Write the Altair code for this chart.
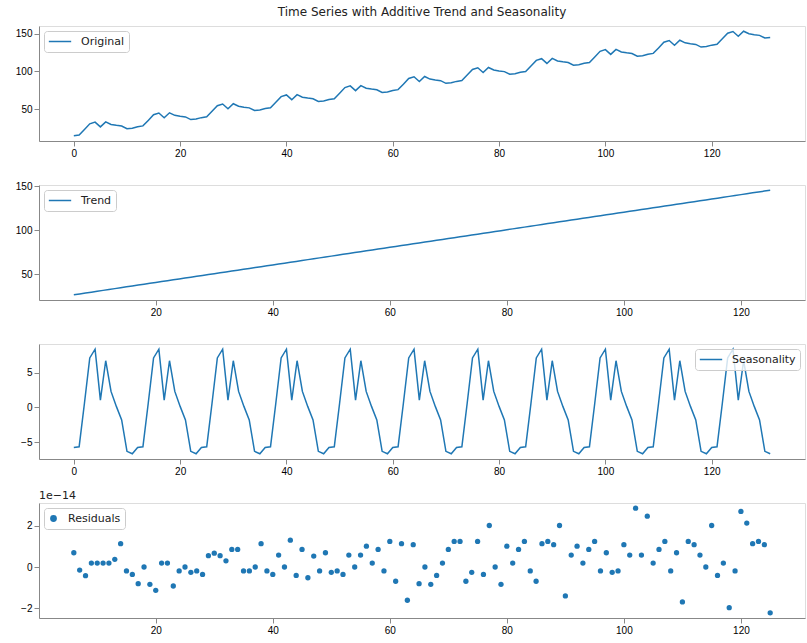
import altair as alt
import pandas as pd

# ---- data -------------------------------------------------------------
time_index = list(range(132))

original = [
    14.85, 15.95, 23.2, 30.7, 32.95, 26.65, 33.3, 29.9, 28.75, 27.8, 24.3, 24.95,
    26.85, 27.95, 35.2, 42.7, 44.95, 38.65, 45.3, 41.9, 40.75, 39.8, 36.3, 36.95,
    38.85, 39.95, 47.2, 54.7, 56.95, 50.65, 57.3, 53.9, 52.75, 51.8, 48.3, 48.95,
    50.85, 51.95, 59.2, 66.7, 68.95, 62.65, 69.3, 65.9, 64.75, 63.8, 60.3, 60.95,
    62.85, 63.95, 71.2, 78.7, 80.95, 74.65, 81.3, 77.9, 76.75, 75.8, 72.3, 72.95,
    74.85, 75.95, 83.2, 90.7, 92.95, 86.65, 93.3, 89.9, 88.75, 87.8, 84.3, 84.95,
    86.85, 87.95, 95.2, 102.7, 104.95, 98.65, 105.3, 101.9, 100.75, 99.8, 96.3, 96.95,
    98.85, 99.95, 107.2, 114.7, 116.95, 110.65, 117.3, 113.9, 112.75, 111.8, 108.3, 108.95,
    110.85, 111.95, 119.2, 126.7, 128.95, 122.65, 129.3, 125.9, 124.75, 123.8, 120.3, 120.95,
    122.85, 123.95, 131.2, 138.7, 140.95, 134.65, 141.3, 137.9, 136.75, 135.8, 132.3, 132.95,
    134.85, 135.95, 143.2, 150.7, 152.95, 146.65, 153.3, 149.9, 148.75, 147.8, 144.3, 144.95,
]

# centred moving average is undefined for the first and last six steps
trend_index = list(range(6, 126))
trend = [
    26.6, 27.6, 28.6, 29.6, 30.6, 31.6, 32.6, 33.6, 34.6, 35.6, 36.6, 37.6,
    38.6, 39.6, 40.6, 41.6, 42.6, 43.6, 44.6, 45.6, 46.6, 47.6, 48.6, 49.6,
    50.6, 51.6, 52.6, 53.6, 54.6, 55.6, 56.6, 57.6, 58.6, 59.6, 60.6, 61.6,
    62.6, 63.6, 64.6, 65.6, 66.6, 67.6, 68.6, 69.6, 70.6, 71.6, 72.6, 73.6,
    74.6, 75.6, 76.6, 77.6, 78.6, 79.6, 80.6, 81.6, 82.6, 83.6, 84.6, 85.6,
    86.6, 87.6, 88.6, 89.6, 90.6, 91.6, 92.6, 93.6, 94.6, 95.6, 96.6, 97.6,
    98.6, 99.6, 100.6, 101.6, 102.6, 103.6, 104.6, 105.6, 106.6, 107.6, 108.6, 109.6,
    110.6, 111.6, 112.6, 113.6, 114.6, 115.6, 116.6, 117.6, 118.6, 119.6, 120.6, 121.6,
    122.6, 123.6, 124.6, 125.6, 126.6, 127.6, 128.6, 129.6, 130.6, 131.6, 132.6, 133.6,
    134.6, 135.6, 136.6, 137.6, 138.6, 139.6, 140.6, 141.6, 142.6, 143.6, 144.6, 145.6,
]

seasonality = [
    -5.75, -5.65, 0.6, 7.1, 8.35, 1.05, 6.7, 2.3, 0.15, -1.8, -6.3, -6.65,
    -5.75, -5.65, 0.6, 7.1, 8.35, 1.05, 6.7, 2.3, 0.15, -1.8, -6.3, -6.65,
    -5.75, -5.65, 0.6, 7.1, 8.35, 1.05, 6.7, 2.3, 0.15, -1.8, -6.3, -6.65,
    -5.75, -5.65, 0.6, 7.1, 8.35, 1.05, 6.7, 2.3, 0.15, -1.8, -6.3, -6.65,
    -5.75, -5.65, 0.6, 7.1, 8.35, 1.05, 6.7, 2.3, 0.15, -1.8, -6.3, -6.65,
    -5.75, -5.65, 0.6, 7.1, 8.35, 1.05, 6.7, 2.3, 0.15, -1.8, -6.3, -6.65,
    -5.75, -5.65, 0.6, 7.1, 8.35, 1.05, 6.7, 2.3, 0.15, -1.8, -6.3, -6.65,
    -5.75, -5.65, 0.6, 7.1, 8.35, 1.05, 6.7, 2.3, 0.15, -1.8, -6.3, -6.65,
    -5.75, -5.65, 0.6, 7.1, 8.35, 1.05, 6.7, 2.3, 0.15, -1.8, -6.3, -6.65,
    -5.75, -5.65, 0.6, 7.1, 8.35, 1.05, 6.7, 2.3, 0.15, -1.8, -6.3, -6.65,
    -5.75, -5.65, 0.6, 7.1, 8.35, 1.05, 6.7, 2.3, 0.15, -1.8, -6.3, -6.65,
]

# residuals, in units of 1e-14
residual_index = list(range(6, 126))
residuals = [
    0.69, -0.15, -0.42, 0.19, 0.19, 0.19, 0.19, 0.37, 1.13, -0.19, -0.36, -0.81,
    0.0, -0.84, -1.13, 0.19, 0.19, -0.92, -0.19, 0.0, -0.26, -0.19, -0.36, 0.55,
    0.67, 0.55, 0.30, 0.85, 0.85, -0.19, -0.19, 0.0, 1.13, -0.19, -0.36, 0.58,
    0.0, 1.30, -0.41, 0.85, -0.52, 0.53, -0.19, 0.69, -0.26, -0.19, -0.36, 0.58,
    0.0, 0.58, 1.01, 0.19, 0.85, -0.19, 1.24, -0.69, 1.13, -1.61, 1.08, -0.81,
    0.0, -0.84, -0.41, 0.19, 0.85, 1.24, 1.24, -0.69, -0.26, 1.24, -0.36, 2.01,
    0.0, -0.84, 1.01, 0.19, 0.85, 1.24, -0.19, -0.69, 1.13, 1.24, 1.08, 2.01,
    -1.40, 0.58, 1.01, 0.19, 0.85, 1.24, -0.19, 0.69, -0.26, -0.19, 1.08, 0.58,
    2.85, 0.58, 2.46, 0.19, 0.85, 1.24, -0.19, 0.69, -1.69, 1.24, 1.08, 0.58,
    0.0, 2.01, -0.41, 0.19, -1.97, -0.19, 2.69, 2.13, 1.13, 1.24, 1.08, -2.22,
]

# ---- styling ----------------------------------------------------------
BLUE = "#1f77b4"
W, H = 766, 115
FONT = "DejaVu Sans"
FULL_TICKS = [0, 20, 40, 60, 80, 100, 120]
INNER_TICKS = [20, 40, 60, 80, 100, 120]


def x_enc(domain, ticks):
    return alt.X(
        "t:Q",
        scale=alt.Scale(domain=domain, nice=False, zero=False),
        axis=alt.Axis(values=ticks, title=None, format="d", grid=False),
    )


def y_enc(domain, ticks):
    return alt.Y(
        "value:Q",
        scale=alt.Scale(domain=domain, nice=False, zero=False),
        axis=alt.Axis(values=ticks, title=None, format="d", grid=False),
    )


def legend(orient, symbol, size):
    return alt.Legend(
        title=None,
        orient=orient,
        offset=5,
        padding=4,
        symbolType=symbol,
        symbolSize=size,
        symbolStrokeWidth=1.5,
        symbolFillColor=BLUE,
        symbolStrokeColor=BLUE,
        labelFont=FONT,
        labelFontSize=11,
        labelColor="#222",
        labelOffset=9,
        fillColor="rgba(255,255,255,0.8)",
        strokeColor="#cccccc",
        cornerRadius=3,
        clipHeight=13,
    )


def color_enc(name, orient="top-left", symbol="stroke", size=500):
    return alt.Color(
        "series:N",
        scale=alt.Scale(domain=[name], range=[BLUE]),
        legend=legend(orient, symbol, size),
    )


orig_df = pd.DataFrame({"t": time_index, "value": original, "series": "Original"})
trend_df = pd.DataFrame({"t": trend_index, "value": trend, "series": "Trend"})
seas_df = pd.DataFrame({"t": time_index, "value": seasonality, "series": "Seasonality"})
resid_df = pd.DataFrame({"t": residual_index, "value": residuals, "series": "Residuals"})

p_original = alt.Chart(orig_df).mark_line(strokeWidth=1.5).encode(
    x=x_enc([-6.55, 137.55], FULL_TICKS),
    y=y_enc([7.93, 160.2], [50, 100, 150]),
    color=color_enc("Original"),
).properties(
    width=W,
    height=H,
    title=alt.TitleParams(
        "Time Series with Additive Trend and Seasonality",
        font=FONT,
        fontSize=12,
        fontWeight="normal",
        color="#222",
        anchor="middle",
        offset=7,
    ),
)

p_trend = alt.Chart(trend_df).mark_line(strokeWidth=1.5).encode(
    x=x_enc([0.05, 130.95], INNER_TICKS),
    y=y_enc([20.65, 151.55], [50, 100, 150]),
    color=color_enc("Trend"),
).properties(width=W, height=H)

p_seasonal = alt.Chart(seas_df).mark_line(strokeWidth=1.5).encode(
    x=x_enc([-6.55, 137.55], FULL_TICKS),
    y=y_enc([-7.4, 9.1], [-5, 0, 5]),
    color=color_enc("Seasonality", orient="top-right"),
).properties(width=W, height=H)

resid_points = alt.Chart(resid_df).mark_circle(size=28, opacity=1).encode(
    x=x_enc([0.05, 130.95], INNER_TICKS),
    y=y_enc([-2.47, 3.10], [-2, 0, 2]),
    color=color_enc("Residuals", symbol="circle", size=28),
)

offset_label = alt.Chart(pd.DataFrame({"label": ["1e\u221214"]})).mark_text(
    align="left", baseline="bottom", font=FONT, fontSize=11, color="#222"
).encode(x=alt.value(0), y=alt.value(-2), text="label:N")

p_resid = alt.layer(resid_points, offset_label).properties(width=W, height=H)

chart = (
    alt.vconcat(p_original, p_trend, p_seasonal, p_resid, spacing=44, bounds="flush")
    .resolve_scale(color="independent", x="independent", y="independent")
    .properties(padding={"left": 14, "top": 5, "right": 0, "bottom": 5})
    .configure_view(stroke="#444", strokeWidth=1)
    .configure_axis(
        labelFont=FONT,
        labelFontSize=11,
        labelColor="#222",
        tickColor="#444",
        tickSize=4,
        labelPadding=2,
        domain=False,
        grid=False,
    )
    .configure(background="white")
)

chart.save("out.html", embed_options={"renderer": "svg", "actions": False})
